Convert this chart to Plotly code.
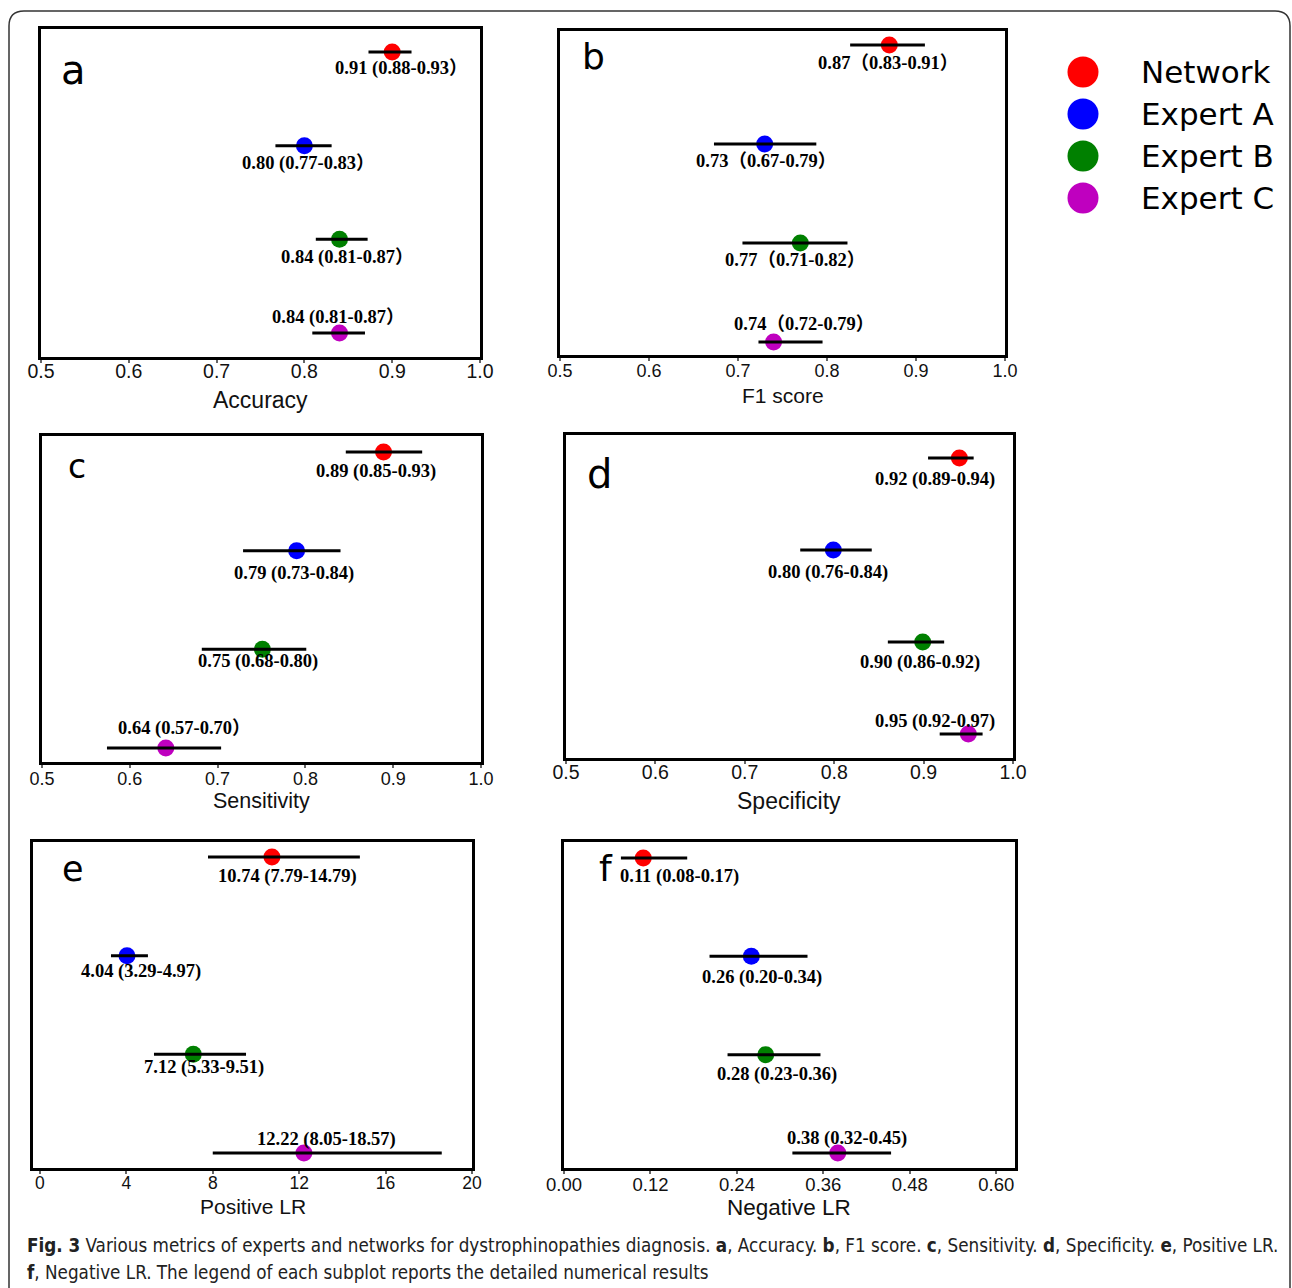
import plotly.graph_objects as go

W, H = 1292, 1288

groups = ["Network", "Expert A", "Expert B", "Expert C"]
colors = ["#ff0000", "#0000ff", "#008000", "#bf00bf"]
rows = [4, 3, 2, 1]

# a, Accuracy
acc_val = [0.90, 0.80, 0.84, 0.84]
acc_lo = [0.873, 0.767, 0.813, 0.809]
acc_hi = [0.922, 0.831, 0.872, 0.869]
acc_txt = ["0.91 (0.88-0.93）", "0.80 (0.77-0.83）", "0.84 (0.81-0.87）", "0.84 (0.81-0.87）"]

# b, F1 score
f1_val = [0.87, 0.73, 0.77, 0.74]
f1_lo = [0.826, 0.673, 0.705, 0.723]
f1_hi = [0.910, 0.788, 0.823, 0.795]
f1_txt = ["0.87（0.83-0.91）", "0.73（0.67-0.79）", "0.77（0.71-0.82）", "0.74（0.72-0.79）"]

# c, Sensitivity
sen_val = [0.889, 0.790, 0.751, 0.641]
sen_lo = [0.846, 0.729, 0.682, 0.574]
sen_hi = [0.933, 0.840, 0.801, 0.704]
sen_txt = ["0.89 (0.85-0.93)", "0.79 (0.73-0.84)", "0.75 (0.68-0.80)", "0.64 (0.57-0.70）"]

# d, Specificity
spe_val = [0.940, 0.799, 0.899, 0.950]
spe_lo = [0.905, 0.762, 0.860, 0.918]
spe_hi = [0.956, 0.842, 0.923, 0.966]
spe_txt = ["0.92 (0.89-0.94)", "0.80 (0.76-0.84)", "0.90 (0.86-0.92)", "0.95 (0.92-0.97)"]

# e, Positive LR
plr_val = [10.74, 4.03, 7.10, 12.22]
plr_lo = [7.78, 3.29, 5.28, 8.00]
plr_hi = [14.81, 5.00, 9.54, 18.60]
plr_txt = ["10.74 (7.79-14.79)", "4.04 (3.29-4.97)", "7.12 (5.33-9.51)", "12.22 (8.05-18.57)"]

# f, Negative LR
nlr_val = [0.110, 0.260, 0.280, 0.380]
nlr_lo = [0.079, 0.202, 0.227, 0.317]
nlr_hi = [0.171, 0.338, 0.356, 0.454]
nlr_txt = ["0.11 (0.08-0.17)", "0.26 (0.20-0.34)", "0.28 (0.23-0.36)", "0.38 (0.32-0.45)"]

tick_ratio = [0.5, 0.6, 0.7, 0.8, 0.9, 1.0]
tick_plr = [0, 4, 8, 12, 16, 20]
tick_nlr = [0.00, 0.12, 0.24, 0.36, 0.48, 0.60]

caption1 = ("<b>Fig. 3</b> Various metrics of experts and networks for dystrophinopathies diagnosis. "
            "<b>a</b>, Accuracy. <b>b</b>, F1 score. <b>c</b>, Sensitivity. <b>d</b>, Specificity. "
            "<b>e</b>, Positive LR.")
caption2 = "<b>f</b>, Negative LR. The legend of each subplot reports the detailed numerical results"

# ---- layout description (pixels) ----
panels = [
    dict(letter="a", title="Accuracy", val=acc_val, lo=acc_lo, hi=acc_hi, txt=acc_txt,
         dom=(41, 480, 29, 357), xr=[0.5, 1.0], yr=[0.744, 4.246], ticks=tick_ratio, fmt=".1f",
         tfs=19.5, tso=-8, ttl_fs=23, ttl_y=400, let_fs=40, let_xy=(73, 70),
         dx=[9, 4, 8, -1], dy=[-16, -18, -18, 16]),
    dict(letter="b", title="F1 score", val=f1_val, lo=f1_lo, hi=f1_hi, txt=f1_txt,
         dom=(560, 1005, 31, 355), xr=[0.5, 1.0], yr=[0.869, 4.141], ticks=tick_ratio, fmt=".1f",
         tfs=18, tso=-6, ttl_fs=21, ttl_y=395, let_fs=36, let_xy=(593, 57),
         dx=[-1, 1, -5, 30], dy=[-18, -17, -17, 18]),
    dict(letter="c", title="Sensitivity", val=sen_val, lo=sen_lo, hi=sen_hi, txt=sen_txt,
         dom=(42, 481, 436, 762), xr=[0.5, 1.0], yr=[0.858, 4.162], ticks=tick_ratio, fmt=".1f",
         tfs=18, tso=-5, ttl_fs=21.5, ttl_y=801, let_fs=33, let_xy=(77, 467),
         dx=[-8, -3, -4, 19], dy=[-20, -23, -12, 19]),
    dict(letter="d", title="Specificity", val=spe_val, lo=spe_lo, hi=spe_hi, txt=spe_txt,
         dom=(566, 1013, 435, 758), xr=[0.5, 1.0], yr=[0.739, 4.25], ticks=tick_ratio, fmt=".1f",
         tfs=19.5, tso=-8, ttl_fs=23, ttl_y=801, let_fs=40, let_xy=(599, 474),
         dx=[-24, -5, -3, -33], dy=[-22, -23, -21, 12]),
    dict(letter="e", title="Positive LR", val=plr_val, lo=plr_lo, hi=plr_hi, txt=plr_txt,
         dom=(33, 472, 842, 1168), xr=[-0.32, 20], yr=[0.848, 4.152], ticks=tick_plr, fmt="d",
         tfs=17.5, tso=-6, ttl_fs=21, ttl_y=1206, let_fs=35, let_xy=(73, 869),
         dx=[16, 14, 11, 23], dy=[-19, -16, -13, 14]),
    dict(letter="f", title="Negative LR", val=nlr_val, lo=nlr_lo, hi=nlr_hi, txt=nlr_txt,
         dom=(564, 1015, 842, 1168), xr=[0.0, 0.626], yr=[0.847, 4.163], ticks=tick_nlr, fmt=".2f",
         tfs=18.5, tso=-5, ttl_fs=22.5, ttl_y=1207, let_fs=36, let_xy=(606, 868),
         dx=[36, 11, 11, 9], dy=[-18, -21, -20, 14]),
]


def px(x):
    return x / W


def py(y):
    return 1 - y / H


fig = go.Figure()
annotations = []
SANS = "Liberation Sans, Arial, sans-serif"
SERIF = "Liberation Serif, Times New Roman, Noto Sans CJK SC, serif"

for i, p in enumerate(panels):
    n = i + 1
    xa = "x" if n == 1 else f"x{n}"
    ya = "y" if n == 1 else f"y{n}"
    # markers
    fig.add_trace(go.Scatter(x=p["val"], y=rows, mode="markers", xaxis=xa, yaxis=ya,
                             marker=dict(size=17, color=colors, line=dict(width=0)),
                             showlegend=False, hoverinfo="skip"))
    # CI lines
    lx, ly = [], []
    for lo, hi, r in zip(p["lo"], p["hi"], rows):
        lx += [lo, hi, None]
        ly += [r, r, None]
    fig.add_trace(go.Scatter(x=lx, y=ly, mode="lines", xaxis=xa, yaxis=ya,
                             line=dict(color="black", width=3),
                             showlegend=False, hoverinfo="skip"))
    x0, x1, y0, y1 = p["dom"]
    xkey = "xaxis" if n == 1 else f"xaxis{n}"
    ykey = "yaxis" if n == 1 else f"yaxis{n}"
    fig.update_layout(**{
        xkey: dict(domain=[px(x0), px(x1)], range=p["xr"], anchor=ya,
                   tickmode="array", tickvals=p["ticks"], tickformat=p["fmt"],
                   showline=True, mirror=True, linecolor="black", linewidth=3,
                   ticks="outside", ticklen=3, tickwidth=1.5, tickcolor="#666",
                   ticklabelstandoff=p["tso"],
                   showgrid=False, zeroline=False,
                   tickfont=dict(family=SANS, size=p["tfs"], color="#111")),
        ykey: dict(domain=[py(y1), py(y0)], range=p["yr"], anchor=xa,
                   showline=True, mirror=True, linecolor="black", linewidth=3,
                   showticklabels=False, ticks="", showgrid=False, zeroline=False),
    })
    # value labels
    for v, r, t, dx, dy in zip(p["val"], rows, p["txt"], p["dx"], p["dy"]):
        annotations.append(dict(x=v, y=r, xref=xa, yref=ya, text=t, showarrow=False,
                                xanchor="center", yanchor="middle", xshift=dx, yshift=dy,
                                font=dict(family=SERIF, size=18.5, color="black", weight="bold")))
    # axis title
    annotations.append(dict(x=px((x0 + x1) / 2), y=py(p["ttl_y"]), xref="paper", yref="paper",
                            text=p["title"], showarrow=False, xanchor="center", yanchor="middle",
                            font=dict(family=SANS, size=p["ttl_fs"], color="#111")))
    # panel letter
    lxp, lyp = p["let_xy"]
    annotations.append(dict(x=px(lxp), y=py(lyp), xref="paper", yref="paper",
                            text=p["letter"], showarrow=False, xanchor="center", yanchor="middle",
                            font=dict(family="DejaVu Sans", size=p["let_fs"], color="black")))

# legend drawn in its own hidden axes
fig.add_trace(go.Scatter(x=[0, 0, 0, 0], y=rows, mode="markers", xaxis="x7", yaxis="y7",
                         marker=dict(size=31, color=colors), showlegend=False, hoverinfo="skip"))
fig.update_layout(
    xaxis7=dict(domain=[px(1040), px(1290)], range=[-43, 207], visible=False, anchor="y7"),
    yaxis7=dict(domain=[py(220), py(50)], range=[0.476, 4.524], visible=False, anchor="x7"),
)
for g, r in zip(groups, rows):
    annotations.append(dict(x=0, y=r, xref="x7", yref="y7", text=g, showarrow=False,
                            xanchor="left", yanchor="middle", xshift=56,
                            font=dict(family="DejaVu Sans", size=31, color="black")))

# caption
CAP = "Liberation Sans Narrow, DejaVu Sans Condensed, Roboto Condensed, Roboto, sans-serif"
annotations.append(dict(x=px(25), y=py(1245), xref="paper", yref="paper", text=caption1,
                        showarrow=False, xanchor="left", yanchor="middle",
                        font=dict(family=CAP, size=18.7, color="#222")))
annotations.append(dict(x=px(25), y=py(1272), xref="paper", yref="paper", text=caption2,
                        showarrow=False, xanchor="left", yanchor="middle",
                        font=dict(family=CAP, size=18.7, color="#222")))

# outer rounded frame
r = 15
fx0, fx1, fy0, fy1 = 9, 1290, 11, 1300
path = (f"M {px(fx0)},{py(fy1)} L {px(fx0)},{py(fy0 + r)} "
        f"Q {px(fx0)},{py(fy0)} {px(fx0 + r)},{py(fy0)} "
        f"L {px(fx1 - r)},{py(fy0)} Q {px(fx1)},{py(fy0)} {px(fx1)},{py(fy0 + r)} "
        f"L {px(fx1)},{py(fy1)}")
shapes = [dict(type="path", path=path, xref="paper", yref="paper",
               line=dict(color="#333", width=1.5))]

fig.update_layout(width=W, height=H, autosize=False,
                  margin=dict(l=0, r=0, t=0, b=0, autoexpand=False),
                  paper_bgcolor="white", plot_bgcolor="white",
                  annotations=annotations, shapes=shapes, showlegend=False)

fig.write_html("out.html", config={"displayModeBar": False},
               post_script="document.body.style.margin='0';document.body.style.overflow='hidden';")
